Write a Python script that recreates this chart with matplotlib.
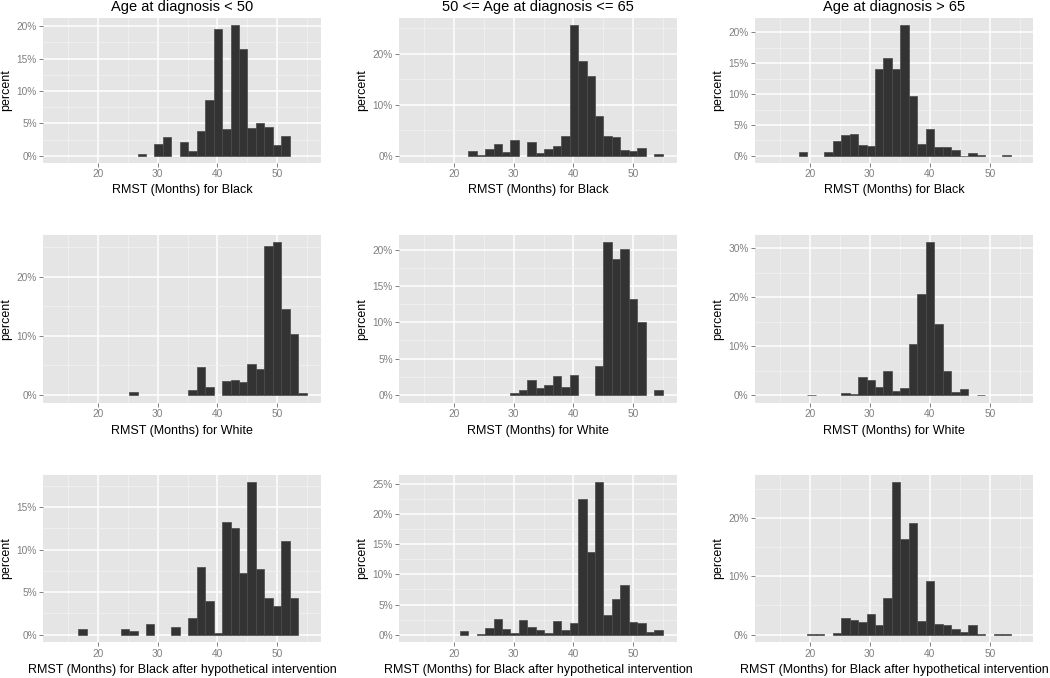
import numpy as np
import matplotlib
matplotlib.use("Agg")
import matplotlib.pyplot as plt
from matplotlib.ticker import FixedLocator, FuncFormatter

plt.rcParams['font.family'] = ['Liberation Sans', 'DejaVu Sans']

# ---------------- data ----------------
bin_start = 13.94      # left edge of first histogram bin (months)
bin_width = 1.412      # histogram bin width (months)

col_titles = ["Age at diagnosis < 50",
              "50 <= Age at diagnosis <= 65",
              "Age at diagnosis > 65"]
row_xlabels = ["RMST (Months) for Black",
               "RMST (Months) for White",
               "RMST (Months) for Black after hypothetical intervention"]

# percent per bin (30 bins)
black_lt50 = [0, 0, 0, 0, 0, 0, 0, 0, 0, 0.3,
              0, 1.9, 2.9, 0, 2.1, 0.7, 3.8, 8.6, 19.6, 4.1,
              20.2, 16.5, 4.3, 5.1, 4.4, 1.7, 3.1, 0, 0, 0]
black_50_65 = [0, 0, 0, 0, 0, 0, 1.0, 0.2, 1.4, 2.3,
               0.8, 3.2, 0, 2.7, 0.6, 1.4, 1.9, 3.9, 25.7, 18.6,
               15.6, 7.9, 4.0, 3.8, 1.1, 1.0, 1.6, 0, 0.3, 0]
black_gt65 = [0, 0, 0, 0.6, 0, 0, 0.65, 2.4, 3.4, 3.6,
              1.7, 1.55, 14.0, 15.75, 14.0, 21.2, 9.7, 2.0, 4.4, 1.4,
              1.45, 0.9, 0.05, 0.4, 0.1, 0, 0, 0.1, 0, 0]
white_lt50 = [0, 0, 0, 0, 0, 0, 0, 0, 0.45, 0,
              0, 0, 0, 0, 0, 0.8, 4.7, 1.3, 0, 2.3,
              2.5, 2.2, 5.3, 4.45, 25.1, 25.8, 14.5, 10.25, 0.3, 0]
white_50_65 = [0, 0, 0, 0, 0, 0, 0, 0, 0, 0,
               0, 0.3, 0.65, 2.05, 1.0, 1.4, 2.6, 1.1, 2.8, 0,
               0, 4.0, 21.0, 18.7, 20.1, 13.2, 10.1, 0, 0.75, 0]
white_gt65 = [0, 0, 0, 0, 0.07, 0, 0, 0, 0.5, 0.2,
              3.6, 3.0, 1.6, 5.0, 0.9, 1.5, 10.5, 20.6, 31.2, 14.6,
              4.9, 0.6, 1.3, 0, 0.07, 0, 0, 0, 0, 0]
interv_lt50 = [0, 0, 0.65, 0, 0, 0, 0, 0.7, 0.4, 0,
               1.25, 0, 0, 0.95, 0, 2.0, 7.9, 4.0, 0.25, 13.2,
               12.55, 7.2, 17.9, 7.7, 4.25, 3.4, 11.0, 4.3, 0, 0]
interv_50_65 = [0, 0, 0, 0, 0, 0.6, 0, 0.15, 1.1, 2.65,
                0.95, 0.2, 2.5, 1.25, 0.8, 0.3, 2.2, 0.7, 1.9, 22.45,
                13.7, 25.3, 3.3, 5.9, 8.3, 2.05, 2.0, 0.4, 0.8, 0]
interv_gt65 = [0, 0, 0, 0, 0.1, 0.1, 0, 0.35, 2.8, 2.55,
               2.1, 3.5, 1.7, 6.3, 26.1, 16.45, 19.1, 2.4, 9.2, 1.9,
               1.6, 1.0, 0.4, 1.6, 0.05, 0, 0.15, 0.05, 0, 0]

panels = [[black_lt50, black_50_65, black_gt65],
          [white_lt50, white_50_65, white_gt65],
          [interv_lt50, interv_50_65, interv_gt65]]

# y-axis major break step (percent) per panel
y_steps = [[5, 10, 5],
           [10, 5, 10],
           [5, 5, 10]]

x_major = [20, 30, 40, 50]
x_minor = [15, 25, 35, 45, 55]

# ---------------- layout ----------------
W, H = 1050, 678
fig = plt.figure(figsize=(W / 100, H / 100), dpi=100)
fig.patch.set_facecolor('white')

col_left = [43.3, 399.3, 755.0]
col_right = [320.7, 676.7, 1033.3]
row_top = [18.2, 234.7, 474.6]
row_bot = [162.5, 402.6, 642.3]

BG = '#E5E5E5'
BAR = '#333333'
GREY = '#7F7F7F'

xlim = (10.9, 57.25)

for r in range(3):
    for c in range(3):
        l, rr = col_left[c], col_right[c]
        t, b = row_top[r], row_bot[r]
        ax = fig.add_axes([l / W, 1 - b / H, (rr - l) / W, (b - t) / H])
        ax.set_facecolor(BG)
        for s in ax.spines.values():
            s.set_visible(False)

        vals = np.array(panels[r][c], dtype=float)
        edges = bin_start + bin_width * np.arange(len(vals))
        mask = vals > 0
        ax.bar(edges[mask], vals[mask], width=bin_width, align='edge',
               color=BAR, edgecolor='#4a4a4a', linewidth=0.5, zorder=3)

        ymax = vals.max()
        ylo, yhi = -0.05 * ymax, 1.05 * ymax
        ax.set_xlim(*xlim)
        ax.set_ylim(ylo, yhi)

        step = y_steps[r][c]
        ymaj = [v for v in np.arange(0, yhi + 1e-9, step)]
        ymin = [v for v in np.arange(step / 2, yhi, step) if v < yhi]
        ax.yaxis.set_major_locator(FixedLocator(ymaj))
        ax.yaxis.set_minor_locator(FixedLocator(ymin))
        ax.xaxis.set_major_locator(FixedLocator(x_major))
        ax.xaxis.set_minor_locator(FixedLocator(x_minor))
        ax.yaxis.set_major_formatter(FuncFormatter(lambda v, p: f"{int(round(v))}%"))

        ax.grid(which='major', color='white', linewidth=1.1, zorder=1)
        ax.grid(which='minor', color='#F2F2F2', linewidth=0.55, zorder=1)
        ax.set_axisbelow(True)

        ax.tick_params(which='major', length=3.2, width=0.7, color=GREY,
                       labelcolor=GREY, labelsize=7.3, pad=1.5)
        ax.tick_params(which='minor', length=0)

        hpx = b - t
        wpx = rr - l
        ax.text(0.5, -28.0 / hpx, row_xlabels[r], transform=ax.transAxes,
                ha='center', va='center', fontsize=9, color='black')
        ax.text(-37.0 / wpx, 0.5, 'percent', transform=ax.transAxes,
                ha='center', va='center', rotation=90, fontsize=9, color='black')
        if r == 0:
            ax.text(0.5, 1 + (t - 7.3) / hpx, col_titles[c], transform=ax.transAxes,
                    ha='center', va='center', fontsize=10.5, color='black')

fig.savefig('out.png', dpi=100, facecolor='white')
